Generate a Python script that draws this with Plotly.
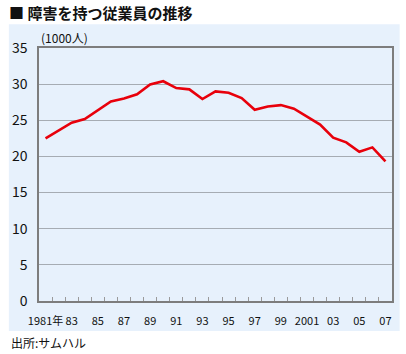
import plotly.graph_objects as go

years = list(range(1981, 2008))
employees = [22.5, 23.55, 24.66, 25.17, 26.4, 27.6, 28.0, 28.6, 29.96, 30.4,
             29.46, 29.28, 27.94, 29.0, 28.8, 28.08, 26.46, 26.9, 27.1, 26.6,
             25.5, 24.4, 22.6, 21.95, 20.65, 21.25, 19.3]
tick_years = list(range(1981, 2008, 2))
tick_labels = ["1981年", "83", "85", "87", "89", "91", "93", "95", "97", "99",
               "2001", "03", "05", "07"]
title_text = "■ 障害を持つ従業員の推移"
unit_text = "(1000人)"
source_text = "出所:サムハル"

W, H = 406, 354
ML, MR, MT, MB = 37.3, 13.7, 47.7, 53
FONT = "Noto Sans CJK JP"
BLUE = "#e7f1fc"

fig = go.Figure()
fig.add_trace(go.Scatter(
    x=years, y=employees, mode="lines",
    line=dict(color="#e8000b", width=2.6),
    hoverinfo="skip", showlegend=False,
))

fig.add_shape(type="rect", xref="paper", yref="paper",
              x0=(7 - ML) / (W - ML - MR), x1=(400 - ML) / (W - ML - MR),
              y0=(H - MB - 331) / (H - MT - MB), y1=(H - MB - 24) / (H - MT - MB),
              fillcolor=BLUE, line=dict(width=0), layer="below")

fig.update_layout(
    width=W, height=H,
    margin=dict(l=ML, r=MR, t=MT, b=MB, pad=0),
    paper_bgcolor="white",
    plot_bgcolor=BLUE,
    font=dict(family=FONT, color="#111111"),
    xaxis=dict(
        range=[1980.5, 2007.5],
        tickmode="array", tickvals=tick_years, ticktext=tick_labels,
        ticks="", showgrid=False, zeroline=False,
        showline=True, linecolor="#7d7d7d", linewidth=1.5, mirror=True,
        tickfont=dict(size=11, family=FONT, color="#111111"),
        ticklabelstandoff=9,
        minor=dict(tickmode="array",
                   tickvals=[y + 0.5 for y in range(1981, 2007)],
                   ticks="inside", ticklen=4, tickcolor="#9a9a9a", tickwidth=1,
                   showgrid=False),
    ),
    yaxis=dict(
        range=[0, 35], tickmode="linear", tick0=0, dtick=5,
        ticks="", showgrid=True, gridcolor="#a6acb3", gridwidth=1,
        zeroline=False,
        showline=True, linecolor="#7d7d7d", linewidth=1.5, mirror=True,
        tickfont=dict(size=14, family=FONT, color="#111111"),
        ticklabelstandoff=7,
    ),
    annotations=[
        dict(text="<b>" + title_text + "</b>", xref="paper", yref="paper",
             x=(5 - ML) / (W - ML - MR), y=(H - MB - 12) / (H - MT - MB),
             xanchor="left", yanchor="middle", showarrow=False,
             font=dict(size=15, family=FONT, color="#111111")),
        dict(text=unit_text, xref="paper", yref="paper",
             x=(37 - ML) / (W - ML - MR), y=(H - MB - 37) / (H - MT - MB),
             xanchor="left", yanchor="middle", showarrow=False,
             font=dict(size=12, family=FONT, color="#111111")),
        dict(text=source_text, xref="paper", yref="paper",
             x=(7 - ML) / (W - ML - MR), y=(H - MB - 343) / (H - MT - MB),
             xanchor="left", yanchor="middle", showarrow=False,
             font=dict(size=12, family=FONT, color="#111111")),
    ],
)

fig.write_html("out.html")
